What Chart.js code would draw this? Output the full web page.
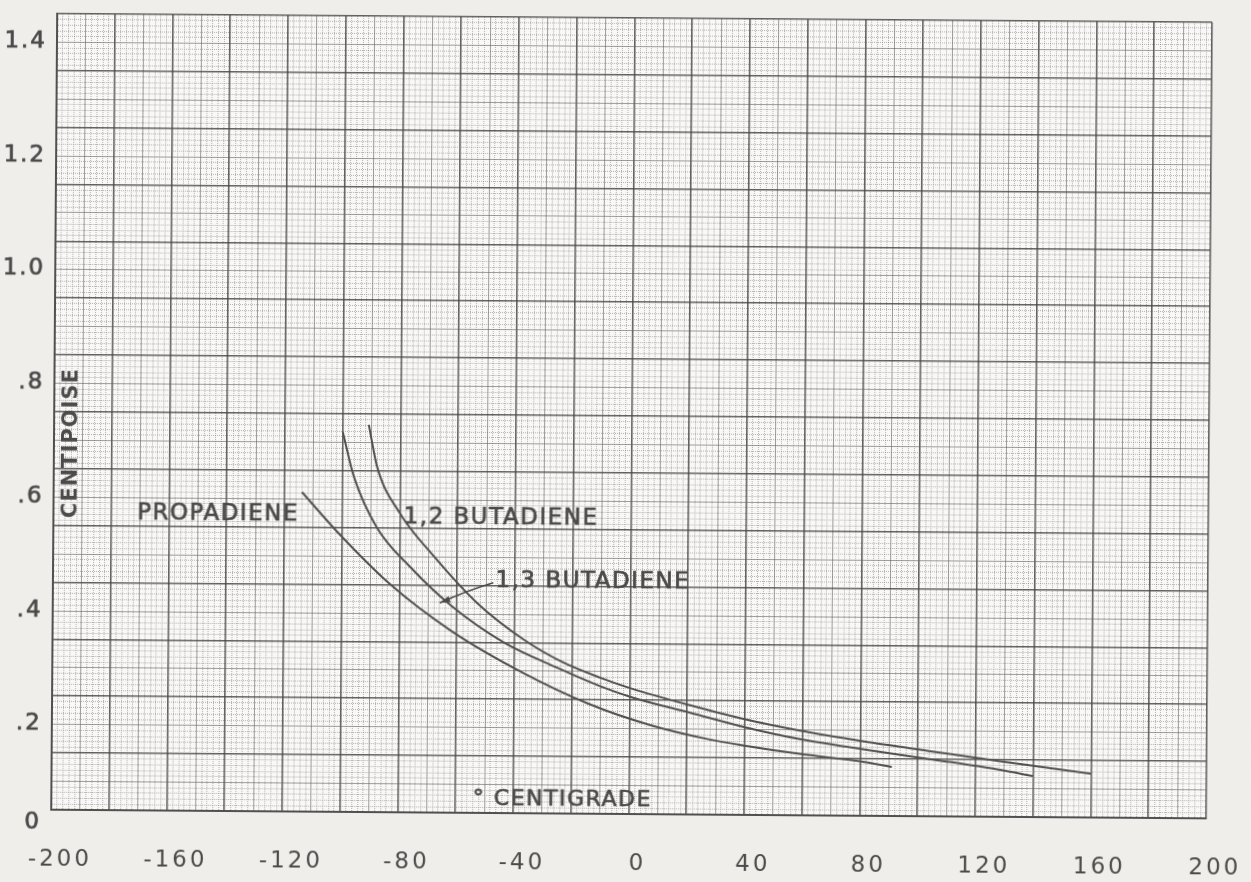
<!DOCTYPE html>
<html>
<head>
<meta charset="utf-8">
<title>Viscosity of propadiene and butadienes</title>
<script src="https://cdn.jsdelivr.net/npm/chart.js@4.4.1/dist/chart.umd.min.js"></script>
<style>
  html, body { margin: 0; padding: 0; background: #f0eeeb; overflow: hidden; }
  /* the scanned sheet sits a little crooked, so the canvas does too */
  #wrap { width: 1251px; height: 882px; transform: rotate(0.43deg); transform-origin: 50% 50%; }
</style>
</head>
<body>
<div id="wrap"><canvas id="chart" width="1251" height="882"></canvas></div>
<script>
// ===============================
// DATA
// ===============================
const xTickValues = [-200, -160, -120, -80, -40, 0, 40, 80, 120, 160, 200];
const yTickValues = [0, 0.2, 0.4, 0.6, 0.8, 1.0, 1.2, 1.4];
const yTickLabels = ["0", ".2", ".4", ".6", ".8", "1.0", "1.2", "1.4"];

const propadieneTemp = [-114, -101, -83, -62, -37, -14, 7, 27, 41, 59, 81, 91];
const propadieneVisc = [0.562, 0.489, 0.400, 0.320, 0.247, 0.193, 0.157, 0.133, 0.121, 0.108, 0.095, 0.086];

const butadiene13Temp = [-100, -96, -88, -76, -62, -44, -25, -10, 1, 21, 41, 59, 81, 105, 128, 140];
const butadiene13Visc = [0.668, 0.589, 0.501, 0.430, 0.364, 0.301, 0.256, 0.224, 0.205, 0.179, 0.153, 0.134, 0.117, 0.100, 0.083, 0.072];

const butadiene12Temp = [-91, -88, -80, -68, -53, -37, -24, -10, 1, 21, 41, 59, 81, 105, 128, 160];
const butadiene12Visc = [0.681, 0.607, 0.526, 0.450, 0.369, 0.306, 0.268, 0.239, 0.220, 0.192, 0.167, 0.149, 0.131, 0.114, 0.098, 0.077];

const seriesNames = ["PROPADIENE", "1,3 BUTADIENE", "1,2 BUTADIENE"];

// ===============================
// GRAPH PAPER STYLE
// ===============================
const ink = "#4b4b4b";
const paper = {
  heavy: { color: "rgba(70,70,70,0.85)", width: 1.6, dash: [] },
  mid: { color: "rgba(95,95,95,0.6)", width: 1, dash: [] },
  fine: { color: "rgba(110,110,110,0.5)", width: 1, dash: [1, 1] }
};

const xKind = v => {
  const n = Math.round(v);
  if (n % 20 === 0) return "heavy";
  if (n % 10 === 0) return "mid";
  return "fine";
};
const yKind = v => {
  const n = Math.round(v * 100);
  if (n % 10 === 0) return "heavy";
  if (n % 5 === 0) return "mid";
  return "fine";
};
const gridOpt = (kindFn, key) => ctx => {
  if (!ctx.tick) return key === "dash" ? [] : paper.heavy[key];
  return paper[kindFn(ctx.tick.value)][key];
};

const toPoints = (xs, ys) => xs.map((x, i) => ({ x: x, y: ys[i] }));

// hand lettering on the sheet, placed in data units
const notes = [
  { text: "PROPADIENE", x: -143, y: 0.522, size: 23 },
  { text: "1,2 BUTADIENE", x: -45, y: 0.519, size: 23 },
  { text: "1,3 BUTADIENE", x: -13, y: 0.408, size: 23 },
  { text: "° CENTIGRADE", x: -23, y: 0.024, size: 22 }
];

const letter = (ctx, text, x, y) => {
  ctx.fillText(text, x, y);
  ctx.strokeText(text, x, y);
};

const paperPlugin = {
  id: "paper",
  beforeDraw(chart) {
    const { ctx, chartArea: a } = chart;
    ctx.save();
    ctx.fillStyle = "#f0eeeb";
    ctx.fillRect(0, 0, chart.width, chart.height);
    ctx.fillStyle = "#f9f8f6";
    ctx.fillRect(a.left, a.top, a.right - a.left, a.bottom - a.top);
    ctx.restore();
    ctx.letterSpacing = "3px";
  },
  afterDraw(chart) {
    const { ctx, chartArea: a } = chart;
    const xs = chart.scales.x;
    const ys = chart.scales.y;
    ctx.save();
    ctx.fillStyle = ink;
    ctx.strokeStyle = ink;
    ctx.lineWidth = 0.7;

    // y tick labels, lettered half a square low like on the original
    ctx.font = "23px 'DejaVu Sans'";
    ctx.letterSpacing = "2px";
    ctx.textAlign = "right";
    ctx.textBaseline = "middle";
    yTickValues.forEach((v, i) => {
      const off = v === 0 ? 13 : 28;
      letter(ctx, yTickLabels[i], a.left - 10, ys.getPixelForValue(v) + off);
    });

    // curve names and axis title
    ctx.textAlign = "center";
    ctx.letterSpacing = "1.5px";
    notes.forEach(n => {
      ctx.font = n.size + "px 'DejaVu Sans'";
      letter(ctx, n.text, xs.getPixelForValue(n.x), ys.getPixelForValue(n.y));
    });

    // vertical unit label
    ctx.save();
    ctx.translate(xs.getPixelForValue(-194), ys.getPixelForValue(0.645));
    ctx.rotate(-Math.PI / 2);
    ctx.font = "bold 21px 'DejaVu Sans'";
    ctx.letterSpacing = "1px";
    ctx.fillText("CENTIPOISE", 0, 0);
    ctx.restore();

    // leader arrow for 1,3 butadiene
    const x1 = xs.getPixelForValue(-47.5), y1 = ys.getPixelForValue(0.405);
    const x2 = xs.getPixelForValue(-66), y2 = ys.getPixelForValue(0.369);
    ctx.lineWidth = 1.6;
    ctx.beginPath();
    ctx.moveTo(x1, y1);
    ctx.quadraticCurveTo((x1 + x2) / 2, (y1 + y2) / 2 - 2, x2, y2);
    ctx.stroke();
    const ang = Math.atan2(y2 - y1, x2 - x1);
    ctx.beginPath();
    ctx.moveTo(x2, y2);
    ctx.lineTo(x2 - 11 * Math.cos(ang - 0.3), y2 - 11 * Math.sin(ang - 0.3));
    ctx.lineTo(x2 - 11 * Math.cos(ang + 0.3), y2 - 11 * Math.sin(ang + 0.3));
    ctx.closePath();
    ctx.fill();
    ctx.restore();
  }
};

const lineStyle = {
  borderColor: "#505050",
  borderWidth: 2,
  pointRadius: 0,
  fill: false,
  cubicInterpolationMode: "monotone"
};

new Chart(document.getElementById("chart"), {
  type: "line",
  data: {
    datasets: [
      Object.assign({ label: seriesNames[0], data: toPoints(propadieneTemp, propadieneVisc) }, lineStyle),
      Object.assign({ label: seriesNames[1], data: toPoints(butadiene13Temp, butadiene13Visc) }, lineStyle),
      Object.assign({ label: seriesNames[2], data: toPoints(butadiene12Temp, butadiene12Visc) }, lineStyle)
    ]
  },
  options: {
    responsive: false,
    animation: false,
    devicePixelRatio: 1,
    layout: { padding: { left: 54, top: 18, right: 42, bottom: 0 } },
    plugins: {
      legend: { display: false },
      tooltip: { enabled: false }
    },
    scales: {
      x: {
        type: "linear",
        min: -200,
        max: 200,
        // keep the plot box where the paper is, whatever the label widths
        afterFit: s => { s.height = 68; s.paddingLeft = 0; s.paddingRight = 0; },
        grid: {
          drawTicks: false,
          color: gridOpt(xKind, "color"),
          lineWidth: gridOpt(xKind, "width")
        },
        border: { display: true, color: "#505050", width: 2, dash: gridOpt(xKind, "dash") },
        ticks: {
          stepSize: 2,
          maxTicksLimit: 1000,
          autoSkip: false,
          maxRotation: 0,
          minRotation: 0,
          padding: 36,
          labelOffset: 9,
          color: ink,
          font: { family: "'DejaVu Sans'", size: 23 },
          callback: v => xTickValues.includes(Math.round(v)) && Math.abs(v - Math.round(v)) < 1e-6 ? String(Math.round(v)) : ""
        }
      },
      y: {
        type: "linear",
        min: 0,
        max: 1.4,
        afterFit: s => { s.width = 0; s.paddingTop = 0; s.paddingBottom = 0; },
        grid: {
          drawTicks: false,
          color: gridOpt(yKind, "color"),
          lineWidth: gridOpt(yKind, "width")
        },
        border: { display: true, color: "#505050", width: 2, dash: gridOpt(yKind, "dash") },
        ticks: {
          display: false,
          stepSize: 0.01,
          maxTicksLimit: 1000,
          autoSkip: false
        }
      }
    }
  },
  plugins: [paperPlugin]
});
</script>
</body>
</html>
